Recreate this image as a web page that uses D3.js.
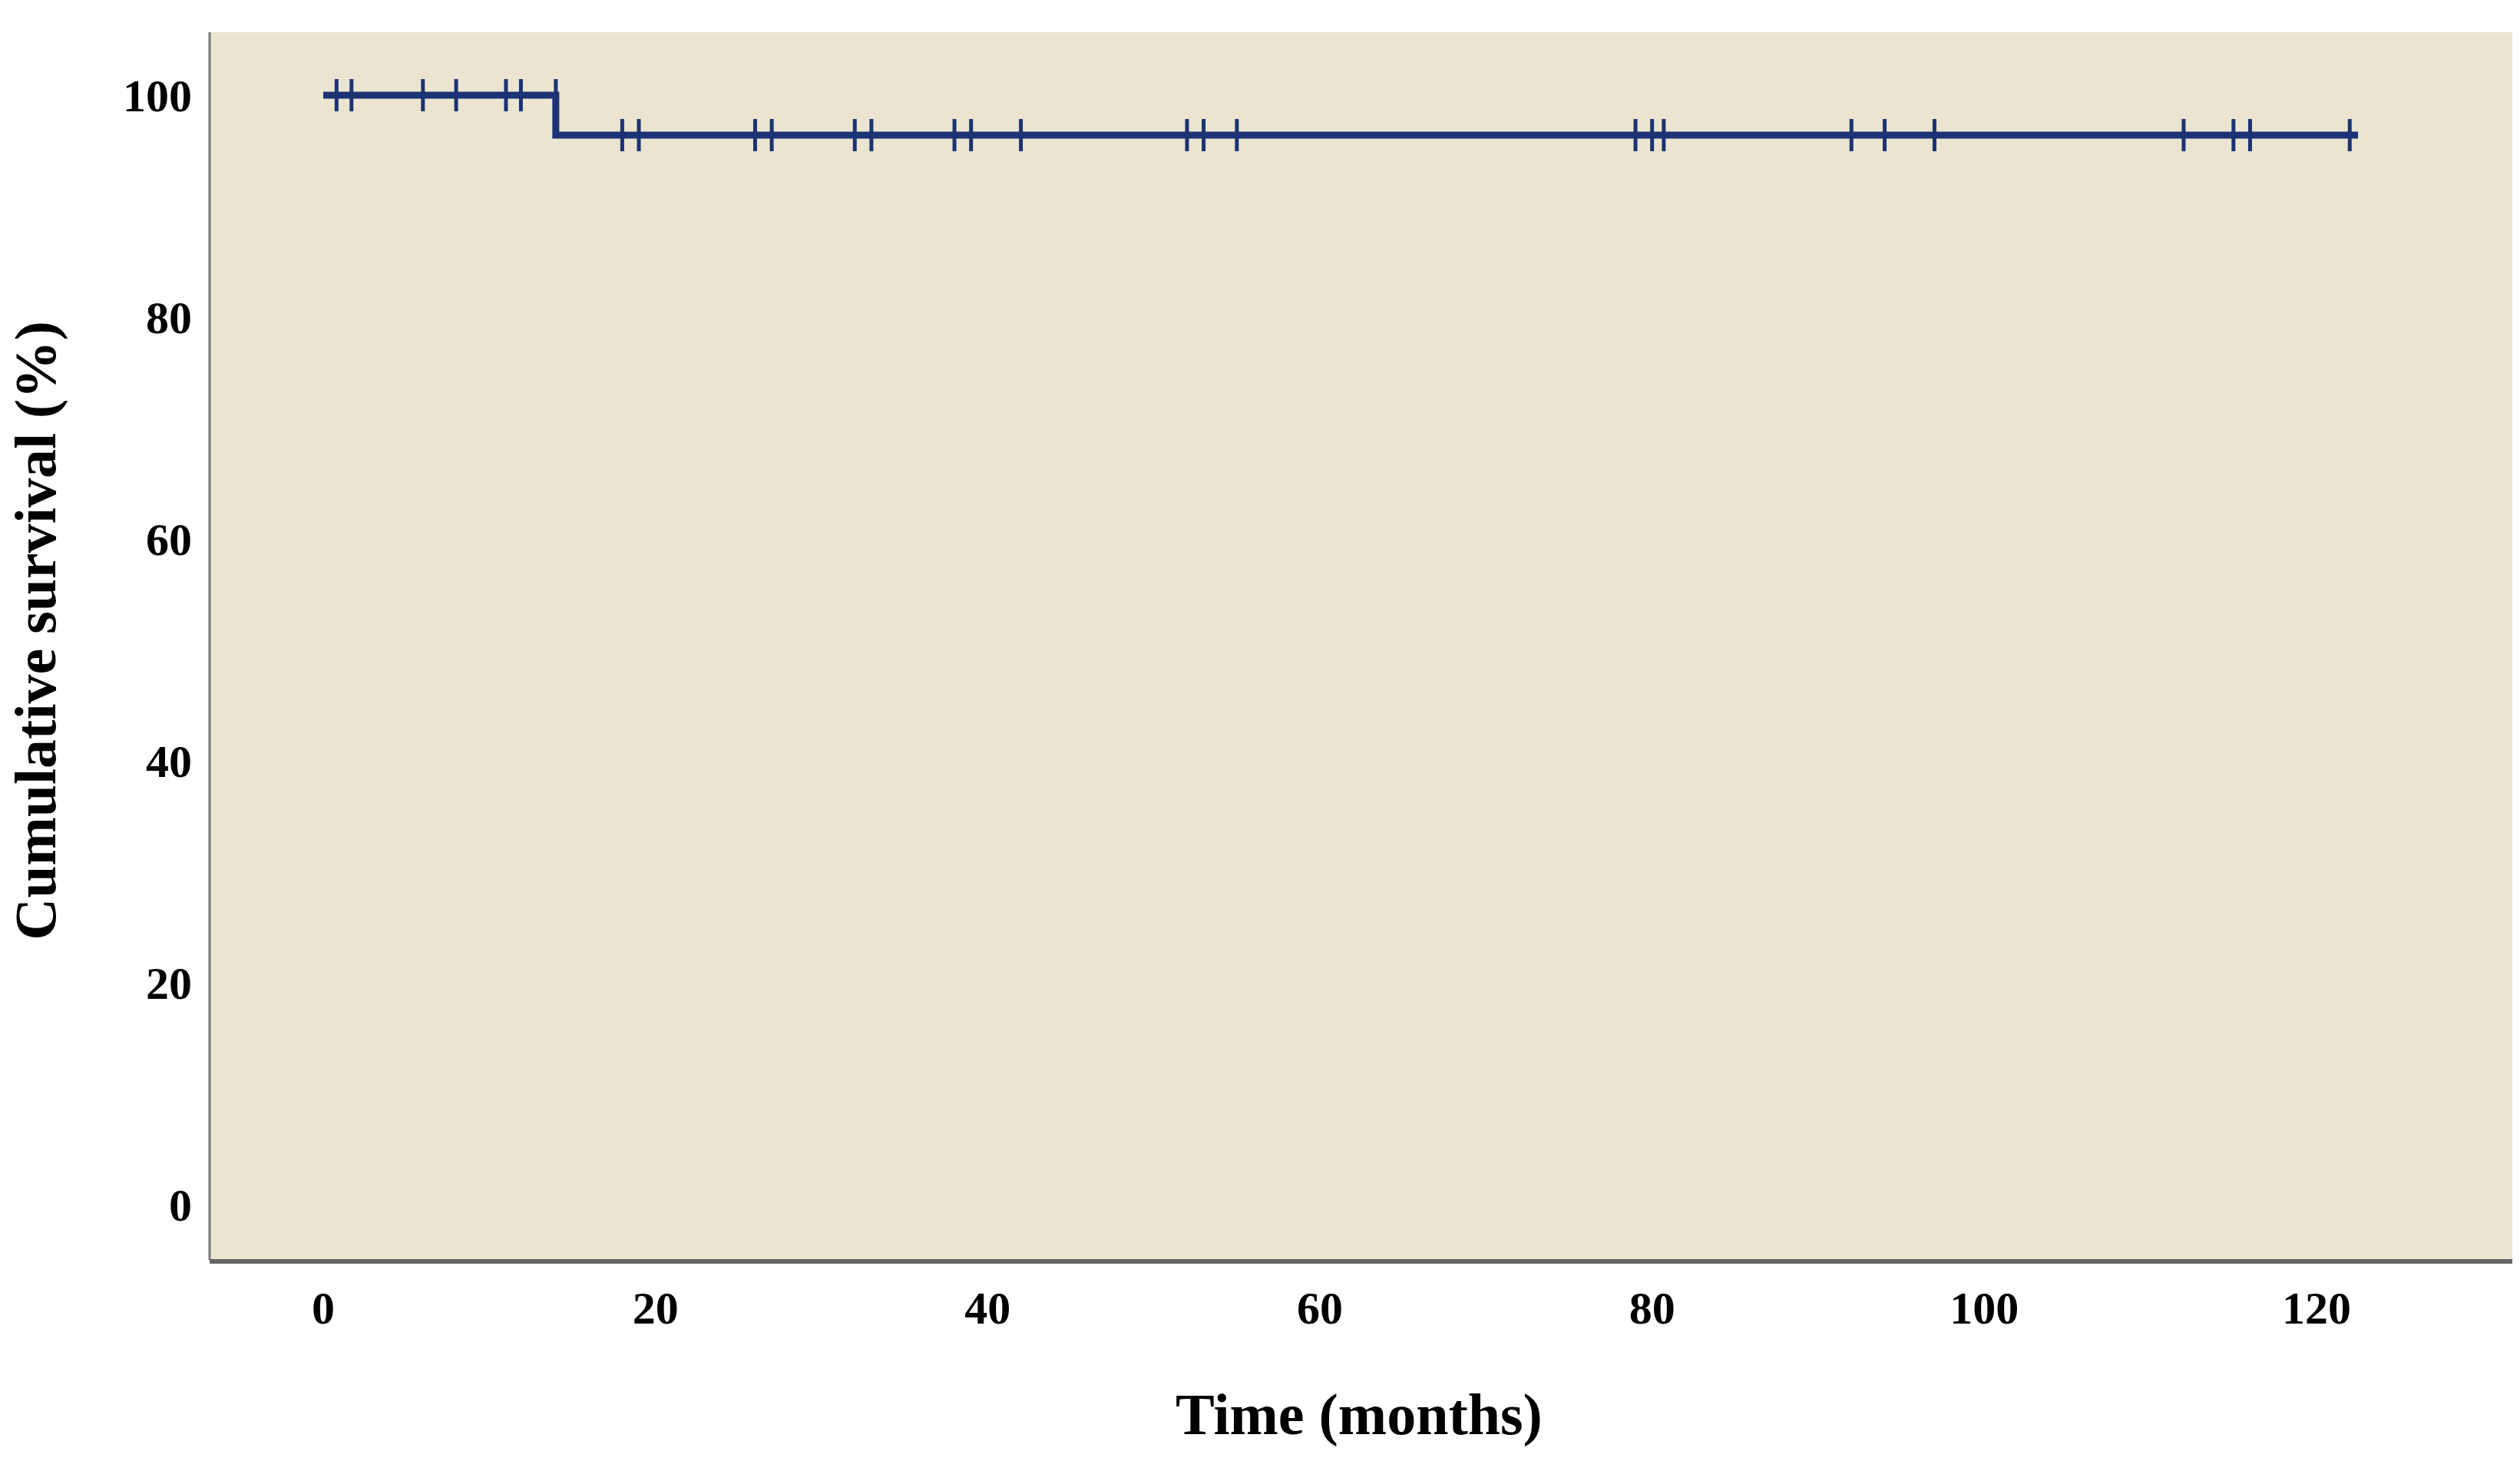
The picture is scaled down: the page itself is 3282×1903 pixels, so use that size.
<!DOCTYPE html>
<html>
<head>
<meta charset="utf-8">
<script src="https://cdn.jsdelivr.net/npm/d3@7"></script>
<style>
  body { margin: 0; background: #fff; }
  text { font-family: "Liberation Serif", "DejaVu Serif", serif; font-weight: bold; fill: #000; }
</style>
</head>
<body>
<div id="chart"></div>
<script>
// survival steps (months, %)
var stepTimes = [0, 14, 122.5];
var stepSurv = [100, 96.4, 96.4];
// censored observations (months)
var censorTimes = [0.8, 1.7, 6, 8, 11, 11.9, 14, 18, 19, 26, 27, 32, 33, 38, 39, 42,
                   52, 53, 55, 79, 80, 80.7, 92, 94, 97, 112, 115, 116, 122];
var xTicks = [0, 20, 40, 60, 80, 100, 120];
var yTicks = [0, 20, 40, 60, 80, 100];

var W = 3282, H = 1903;
var plot = { left: 273, right: 3272, top: 42, bottom: 1641 };

var svg = d3.select("#chart").append("svg")
    .attr("width", W)
    .attr("height", H);

var x = d3.scaleLinear().domain([0, 120]).range([421, 3017]);
var y = d3.scaleLinear().domain([0, 100]).range([1569, 124]);

// plot background
svg.append("rect")
    .attr("x", plot.left).attr("y", plot.top)
    .attr("width", plot.right - plot.left)
    .attr("height", plot.bottom - plot.top)
    .attr("fill", "#ebe4d0");

// axis lines
svg.append("line")
    .attr("x1", plot.left).attr("x2", plot.left)
    .attr("y1", plot.top).attr("y2", plot.bottom)
    .attr("stroke", "#777").attr("stroke-width", 3);
svg.append("line")
    .attr("x1", plot.left).attr("x2", plot.right)
    .attr("y1", plot.bottom + 2).attr("y2", plot.bottom + 2)
    .attr("stroke", "#666").attr("stroke-width", 6);

// tick labels
svg.append("g").selectAll("text").data(xTicks).join("text")
    .attr("x", d => x(d)).attr("y", 1724)
    .attr("text-anchor", "middle")
    .attr("font-size", 60)
    .text(d => d);
svg.append("g").selectAll("text").data(yTicks).join("text")
    .attr("x", 250).attr("y", d => y(d) + 21)
    .attr("text-anchor", "end")
    .attr("font-size", 60)
    .text(d => d);

// axis titles
svg.append("text")
    .attr("x", 1770).attr("y", 1868)
    .attr("text-anchor", "middle")
    .attr("font-size", 76)
    .text("Time (months)");
svg.append("text")
    .attr("transform", "translate(72," + ((plot.top + plot.bottom) / 2 - 20) + ") rotate(-90)")
    .attr("text-anchor", "middle")
    .attr("font-size", 76)
    .text("Cumulative survival (%)");

// survival curve
var pts = stepTimes.map((t, i) => [t, stepSurv[i]]);
svg.append("path")
    .datum(pts)
    .attr("d", d3.line().x(d => x(d[0])).y(d => y(d[1])).curve(d3.curveStepAfter))
    .attr("fill", "none")
    .attr("stroke", "#1b3374")
    .attr("stroke-width", 9);

// censor marks
function survAt(t) {
    var s = stepSurv[0];
    stepTimes.forEach((st, i) => { if (t > st) s = stepSurv[i]; });
    return s;
}
svg.append("g").selectAll("line").data(censorTimes).join("line")
    .attr("x1", d => x(d)).attr("x2", d => x(d))
    .attr("y1", d => y(survAt(d)) - 21)
    .attr("y2", d => y(survAt(d)) + 21)
    .attr("stroke", "#1b3374")
    .attr("stroke-width", 5);
</script>
</body>
</html>
